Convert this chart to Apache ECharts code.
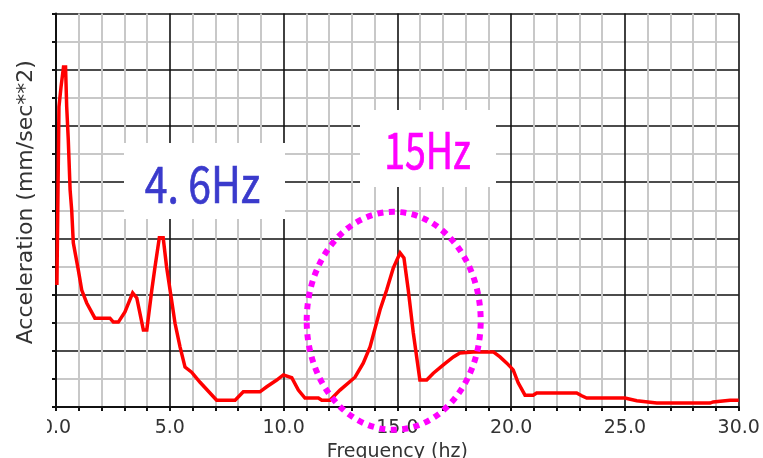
<!DOCTYPE html>
<html>
<head>
<meta charset="utf-8">
<script src="https://cdn.jsdelivr.net/npm/echarts@6/dist/echarts.min.js"></script>
<style>
  html, body { margin: 0; padding: 0; background: #ffffff; }
  #chart { width: 763px; height: 458px; }
</style>
</head>
<body>
<div id="chart"></div>
<script>
// Acceleration spectrum: frequency (Hz) and response amplitude (grid units)
const freqHz = [
  0.04, 0.13, 0.22, 0.33, 0.42, 0.47, 0.54, 0.62, 0.69, 0.76,
  0.98, 1.13, 1.35, 1.71, 2.37, 2.52, 2.74, 3.03, 3.37, 3.55,
  3.84, 3.99, 4.21, 4.35, 4.54, 4.71, 4.86, 5.08, 5.23, 5.45,
  5.67, 5.96, 6.33, 7.06, 7.87, 8.23, 8.96, 9.26, 9.70, 9.99,
  10.36, 10.65, 10.94, 11.53, 11.68, 12.04, 12.48, 13.14, 13.50, 13.80,
  14.24, 14.53, 14.82, 15.12, 15.29, 15.48, 15.70, 15.99, 16.29, 16.58,
  17.02, 17.46, 17.75, 18.34, 19.22, 19.51, 19.81, 20.09, 20.31, 20.61,
  20.97, 21.12, 22.88, 23.10, 23.32, 25.00, 25.52, 26.40, 28.74, 28.88,
  29.62, 30.00
];
const accel = [
  2.17, 5.34, 5.69, 6.05, 6.05, 5.34, 4.75, 3.86, 3.50, 2.92,
  2.44, 2.08, 1.85, 1.58, 1.58, 1.51, 1.51, 1.69, 2.03, 1.94,
  1.37, 1.37, 2.08, 2.49, 3.01, 3.01, 2.49, 1.90, 1.49, 1.07,
  0.71, 0.62, 0.44, 0.12, 0.12, 0.27, 0.27, 0.36, 0.48, 0.57,
  0.52, 0.30, 0.16, 0.16, 0.12, 0.12, 0.30, 0.53, 0.78, 1.07,
  1.73, 2.08, 2.47, 2.74, 2.65, 2.08, 1.32, 0.48, 0.48, 0.60,
  0.75, 0.89, 0.96, 0.98, 0.98, 0.89, 0.78, 0.66, 0.43, 0.21,
  0.21, 0.25, 0.25, 0.20, 0.16, 0.16, 0.11, 0.07, 0.07, 0.09,
  0.12, 0.12
];
const freqTicks = [0, 5, 10, 15, 20, 25, 30];
const peakLabels = ['4. 6Hz', '15Hz'];

const chart = echarts.init(document.getElementById('chart'), null, { renderer: 'canvas' });

const labelFont = '"DejaVu Sans", sans-serif';

chart.setOption({
  animation: false,
  backgroundColor: '#ffffff',
  grid: {
    left: 56, top: 13.5, right: 24.3, bottom: 51,
    containLabel: false, outerBoundsMode: 'none'
  },
  xAxis: {
    type: 'value',
    min: freqTicks[0],
    max: freqTicks[freqTicks.length - 1],
    interval: freqTicks[1] - freqTicks[0],
    name: 'Frequency (hz)',
    nameLocation: 'middle',
    nameGap: 30,
    nameTextStyle: { color: '#333333', fontSize: 19, fontFamily: labelFont },
    axisLine: { lineStyle: { color: '#111111', width: 2 } },
    axisTick: { show: true, length: 4, lineStyle: { color: '#111111', width: 2 } },
    minorTick: { show: true, splitNumber: 5, length: 4, lineStyle: { color: '#111111', width: 2 } },
    axisLabel: {
      color: '#333333', fontSize: 19, fontFamily: labelFont, margin: 12,
      formatter: v => v.toFixed(1)
    },
    splitLine: { show: true, lineStyle: { color: '#111111', width: 1.6 } },
    minorSplitLine: { show: true, lineStyle: { color: '#c8c8c8', width: 2 } }
  },
  yAxis: {
    type: 'value',
    min: 0,
    max: 7,
    interval: 1,
    name: 'Acceleration (mm/sec**2)',
    nameLocation: 'middle',
    nameGap: 19,
    nameTextStyle: { color: '#333333', fontSize: 22, fontFamily: labelFont, padding: [0, 0, 0, 16] },
    axisLine: { show: true, lineStyle: { color: '#111111', width: 2 } },
    axisTick: { show: true, length: 4, lineStyle: { color: '#111111', width: 2 } },
    minorTick: { show: true, splitNumber: 2, length: 4, lineStyle: { color: '#111111', width: 2 } },
    axisLabel: { show: false },
    splitLine: { show: true, lineStyle: { color: '#111111', width: 1.6 } },
    minorSplitLine: { show: true, lineStyle: { color: '#c8c8c8', width: 2 } }
  },
  series: [{
    type: 'line',
    data: freqHz.map((f, i) => [f, accel[i]]),
    showSymbol: false,
    lineStyle: { color: '#ff0000', width: 3.5, join: 'miter' },
    z: 3
  }]
});

// Annotation callouts: white label boxes, peak labels and the dotted ring round the 15 Hz peak
chart.setOption({
  graphic: [
    { type: 'rect', shape: { x: 0, y: 412, width: 47, height: 28 }, style: { fill: '#ffffff' }, z: 100 },
    { type: 'rect', shape: { x: 124, y: 143, width: 161, height: 76 }, style: { fill: '#ffffff' }, z: 100 },
    { type: 'text', x: 202.5, y: 184, scaleX: 0.82, z: 101,
      style: { text: peakLabels[0], fill: '#3a3acc', stroke: '#3a3acc', lineWidth: 0.7,
               font: '50px "Noto Sans CJK JP"', textAlign: 'center', textVerticalAlign: 'middle' } },
    { type: 'rect', shape: { x: 360, y: 110, width: 136, height: 77 }, style: { fill: '#ffffff' }, z: 100 },
    { type: 'text', x: 427.5, y: 150, scaleX: 0.75, z: 101,
      style: { text: peakLabels[1], fill: '#ff00ff', stroke: '#ff00ff', lineWidth: 0.7,
               font: '50px "Noto Sans CJK JP"', textAlign: 'center', textVerticalAlign: 'middle' } },
    { type: 'ellipse', shape: { cx: 393.7, cy: 320.8, rx: 87, ry: 109 }, z: 102,
      style: { fill: 'none', stroke: '#ff00ff', lineWidth: 6, lineDash: [6, 5.5], lineCap: 'butt' } }
  ]
});
</script>
</body>
</html>
